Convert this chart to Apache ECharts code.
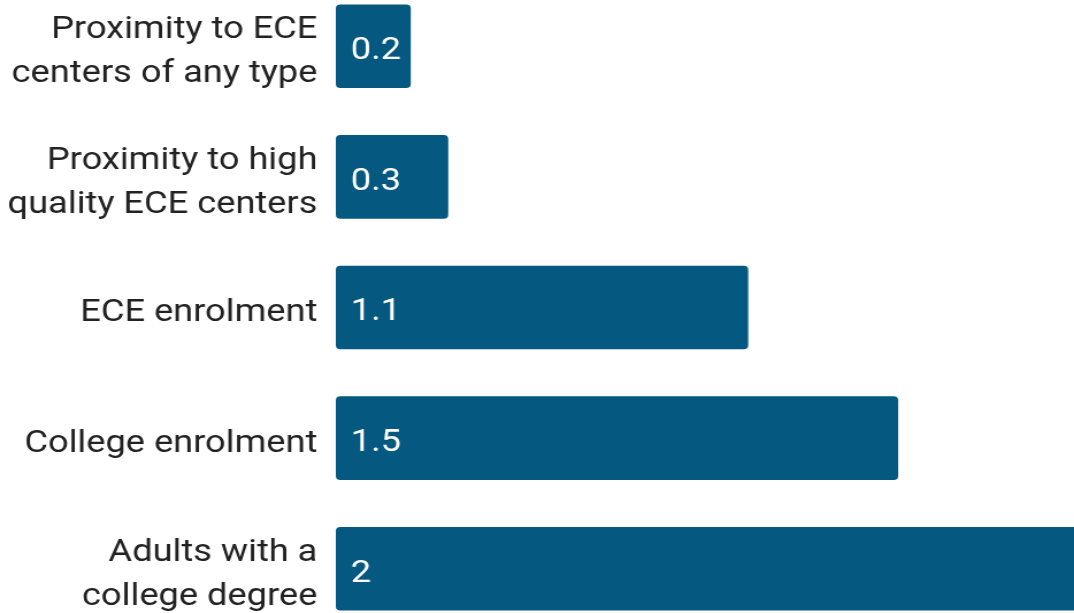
<!DOCTYPE html>
<html>
<head>
<meta charset="utf-8">
<script src="https://cdn.jsdelivr.net/npm/echarts@6/dist/echarts.min.js"></script>
<style>
  html, body { margin: 0; padding: 0; background: #ffffff; overflow: hidden; }
  body { width: 1074px; height: 613px; position: relative; }
  /* the plot runs slightly past the page edges, and the whole drawing is
     widened horizontally */
  #chart {
    position: absolute; left: 0; top: -19px;
    width: 944px; height: 653px;
    transform: scaleX(1.15); transform-origin: 0 0;
  }
</style>
</head>
<body>
<div id="chart"></div>
<script>
// Indicator names (top to bottom) and their values
const categories = [
  'Proximity to ECE\ncenters of any type',
  'Proximity to high\nquality ECE centers',
  'ECE enrolment',
  'College enrolment',
  'Adults with a\ncollege degree'
];
const values = [0.2, 0.3, 1.1, 1.5, 2];

const BAR_COLOR = '#05587f';
const FONT = 'Roboto, "Noto Sans", sans-serif';

const chart = echarts.init(document.getElementById('chart'), null, { renderer: 'canvas' });

chart.setOption({
  animation: false,
  backgroundColor: '#ffffff',
  grid: { left: 292, right: 0, top: 0, bottom: 0, containLabel: false },
  xAxis: {
    type: 'value',
    min: 0,
    max: 2,
    show: false
  },
  yAxis: {
    type: 'category',
    data: categories,
    inverse: true,
    axisLine: { show: false },
    axisTick: { show: false },
    splitLine: { show: false },
    axisLabel: {
      margin: 16,
      align: 'right',
      // a thin strut fixes each row at 44px; the words sit at the bottom of it
      formatter: (name) => name.split('\n').map((s) => '{s|\u200b}{t|' + s + '}').join('\n'),
      rich: {
        s: { fontSize: 1, lineHeight: 44 },
        t: {
          color: '#222222',
          fontFamily: FONT,
          fontSize: 31.5,
          lineHeight: 34,
          verticalAlign: 'bottom'
        }
      }
    }
  },
  series: [{
    type: 'bar',
    data: values,
    barWidth: '64%',
    itemStyle: { color: BAR_COLOR, borderRadius: 4 },
    label: {
      show: true,
      position: 'insideLeft',
      distance: 13,
      offset: [0, 5],
      color: '#ffffff',
      fontFamily: FONT,
      fontSize: 31.5
    }
  }]
});
</script>
</body>
</html>
